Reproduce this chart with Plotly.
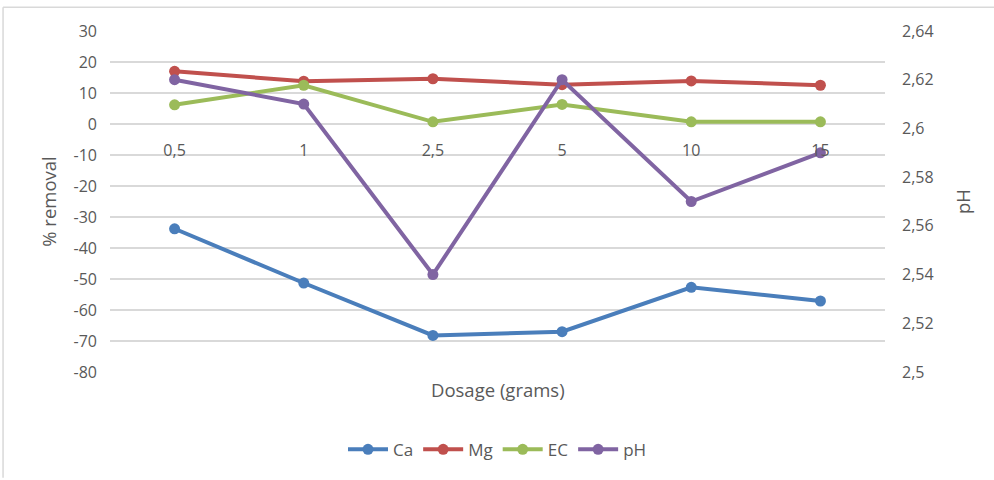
import plotly.graph_objects as go

dosage = ["0,5", "1", "2,5", "5", "10", "15"]
ca = [-33.8, -51.3, -68.2, -67.0, -52.7, -57.1]
mg = [17.0, 13.8, 14.6, 12.7, 13.9, 12.5]
ec = [6.2, 12.5, 0.7, 6.3, 0.7, 0.7]
ph = [2.62, 2.61, 2.54, 2.62, 2.57, 2.59]

left_ticks = [30, 20, 10, 0, -10, -20, -30, -40, -50, -60, -70, -80]
left_text = ["30", "20", "10", "0", "-10", "-20", "-30", "-40", "-50", "-60", "-70", "-80"]
right_ticks = [2.5, 2.52, 2.54, 2.56, 2.58, 2.6, 2.62, 2.64]
right_text = ["2,5", "2,52", "2,54", "2,56", "2,58", "2,6", "2,62", "2,64"]

colors = {"Ca": "#4a7ebb", "Mg": "#c0504d", "EC": "#9bbb59", "pH": "#8064a2"}
FONT = "Open Sans"
TXT = "#595959"

fig = go.Figure()
for name, vals in [("Ca", ca), ("Mg", mg), ("EC", ec)]:
    fig.add_trace(go.Scatter(x=dosage, y=vals, name=name, mode="lines+markers",
                             line=dict(color=colors[name], width=4),
                             marker=dict(color=colors[name], size=11)))
fig.add_trace(go.Scatter(x=dosage, y=ph, name="pH", mode="lines+markers", yaxis="y2",
                         line=dict(color=colors["pH"], width=4),
                         marker=dict(color=colors["pH"], size=11)))

ymin, ymax = -80, 30
zero_pos = (0 - ymin) / (ymax - ymin)

fig.update_layout(
    width=994, height=480,
    margin=dict(l=110, r=109, t=31, b=104),
    paper_bgcolor="white", plot_bgcolor="white",
    font=dict(family=FONT, size=16, color=TXT),
    separators=", ",
    showlegend=True,
    legend=dict(orientation="h", x=0.5, xanchor="center", y=-0.228, yanchor="middle",
                font=dict(size=17, color=TXT), itemwidth=40, tracegroupgap=0),
    xaxis=dict(type="category", anchor="free", position=zero_pos,
               showline=False, showgrid=False, ticks="", ticklabelstandoff=15,
               tickfont=dict(size=16, color=TXT), range=[-0.5, 5.5]),
    yaxis=dict(range=[ymin, ymax], tickvals=left_ticks, ticktext=left_text,
               showgrid=True, gridcolor="#d9d9d9", gridwidth=1.5,
               zeroline=False, showline=False, ticks="", ticklabelstandoff=12,
               tickfont=dict(size=16, color=TXT),
               title=dict(text="% removal", font=dict(size=18.5, color=TXT), standoff=12)),
    yaxis2=dict(range=[2.5, 2.64], tickvals=right_ticks, ticktext=right_text,
                overlaying="y", side="right", showgrid=False, zeroline=False,
                showline=False, ticks="", ticklabelstandoff=16,
                tickfont=dict(size=16, color=TXT),
                title=dict(text="pH", font=dict(size=18.5, color=TXT), standoff=24)),
    annotations=[dict(text="Dosage (grams)", xref="paper", yref="paper", x=0.5, y=-0.052,
                      xanchor="center", yanchor="middle", showarrow=False,
                      font=dict(size=18.5, color=TXT))],
    shapes=[
        dict(type="line", xref="paper", yref="paper", x0=-0.138, x1=1.15, y0=1.0696, y1=1.0696,
             line=dict(color="#d9d9d9", width=1.5)),
        dict(type="line", xref="paper", yref="paper", x0=-0.138, x1=-0.138, y0=1.0696, y1=-0.31,
             line=dict(color="#d9d9d9", width=1.5)),
    ],
)

fig.write_html("out.html")
